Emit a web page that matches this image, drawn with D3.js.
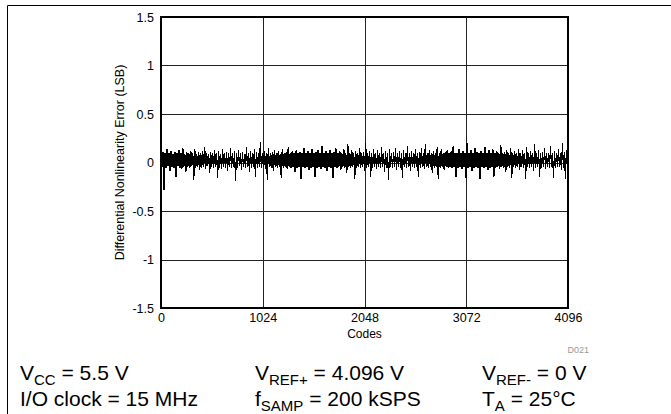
<!DOCTYPE html>
<html><head><meta charset="utf-8">
<script src="https://cdn.jsdelivr.net/npm/d3@7"></script>
<style>
body{margin:0;background:#fff;}
svg{display:block;font-family:"Liberation Sans",Arial,sans-serif;}
</style></head><body>
<svg id="c" width="671" height="414"></svg>
<script>
const xTicks = [0, 1024, 2048, 3072, 4096];
const yTicks = [-1.5, -1, -0.5, 0, 0.5, 1, 1.5];
const yTickLabels = ["-1.5", "-1", "-0.5", "0", "0.5", "1", "1.5"];
const codeStep = 10;
const dnl = [
0.09,-0.05,0.11,-0.28,0.1,-0.06,0.14,-0.04,0.1,-0.09,
0.12,-0.05,0.09,-0.06,0.11,-0.15,0.1,-0.04,0.13,-0.06,
0.1,-0.07,0.15,-0.05,0.09,-0.1,0.11,-0.05,0.1,-0.06,
0.12,-0.04,0.1,-0.18,0.14,-0.06,0.09,-0.05,0.11,-0.08,
0.1,-0.06,0.12,-0.05,0.16,-0.07,0.1,-0.04,0.09,-0.11,
0.11,-0.05,0.1,-0.06,0.13,-0.05,0.1,-0.16,0.12,-0.06,
0.09,-0.07,0.14,-0.05,0.1,-0.06,0.11,-0.09,0.1,-0.05,
0.15,-0.06,0.1,-0.05,0.12,-0.19,0.1,-0.06,0.13,-0.04,
0.1,-0.08,0.11,-0.05,0.09,-0.06,0.16,-0.05,0.1,-0.1,
0.12,-0.06,0.1,-0.05,0.14,-0.15,0.11,-0.06,0.1,-0.05,
0.21,-0.06,0.1,-0.05,0.12,-0.07,0.1,-0.18,0.15,-0.05,
0.1,-0.06,0.11,-0.09,0.13,-0.05,0.1,-0.06,0.12,-0.05,
0.09,-0.16,0.14,-0.06,0.1,-0.05,0.11,-0.07,0.16,-0.05,
0.1,-0.06,0.12,-0.05,0.1,-0.1,0.13,-0.06,0.1,-0.05,
0.11,-0.17,0.1,-0.05,0.15,-0.06,0.1,-0.05,0.12,-0.08,
0.1,-0.06,0.14,-0.05,0.1,-0.15,0.11,-0.06,0.13,-0.05,
0.1,-0.07,0.17,-0.05,0.1,-0.06,0.12,-0.09,0.1,-0.05,
0.13,-0.06,0.1,-0.16,0.11,-0.05,0.15,-0.06,0.1,-0.05,
0.12,-0.08,0.1,-0.05,0.14,-0.06,0.1,-0.11,0.19,-0.05,
0.1,-0.06,0.13,-0.05,0.1,-0.17,0.12,-0.06,0.1,-0.05,
0.15,-0.06,0.1,-0.05,0.11,-0.09,0.2,-0.06,0.1,-0.05,
0.12,-0.15,0.1,-0.06,0.14,-0.05,0.1,-0.07,0.13,-0.05,
0.1,-0.06,0.16,-0.05,0.1,-0.1,0.12,-0.06,0.1,-0.18,
0.14,-0.05,0.1,-0.06,0.11,-0.05,0.15,-0.08,0.1,-0.05,
0.12,-0.06,0.1,-0.16,0.13,-0.05,0.1,-0.06,0.17,-0.05,
0.1,-0.09,0.12,-0.05,0.1,-0.06,0.14,-0.05,0.1,-0.15,
0.11,-0.06,0.15,-0.05,0.1,-0.07,0.19,-0.05,0.1,-0.06,
0.13,-0.05,0.1,-0.11,0.12,-0.06,0.1,-0.05,0.16,-0.17,
0.1,-0.06,0.14,-0.05,0.1,-0.08,0.11,-0.05,0.13,-0.06,
0.1,-0.05,0.12,-0.06,0.17,-0.05,0.1,-0.15,0.1,-0.06,
0.14,-0.05,0.1,-0.07,0.12,-0.05,0.1,-0.16,0.2,-0.06,
0.1,-0.05,0.13,-0.09,0.1,-0.06,0.15,-0.05,0.11,-0.06,
0.1,-0.17,0.12,-0.05,0.1,-0.06,0.16,-0.05,0.1,-0.08,
0.13,-0.06,0.1,-0.05,0.14,-0.15,0.1,-0.06,0.12,-0.05,
0.1,-0.07,0.18,-0.05,0.1,-0.06,0.11,-0.1,0.13,-0.05,
0.1,-0.06,0.15,-0.16,0.1,-0.05,0.12,-0.06,0.1,-0.05,
0.14,-0.08,0.1,-0.05,0.13,-0.06,0.1,-0.17,0.16,-0.05,
0.1,-0.06,0.12,-0.05,0.1,-0.09,0.19,-0.06,0.1,-0.05,
0.13,-0.15,0.1,-0.06,0.11,-0.05,0.15,-0.07,0.1,-0.05,
0.1,-0.06,0.17,-0.05,0.1,-0.16,0.12,-0.06,0.1,-0.05,
0.14,-0.05,0.1,-0.08,0.2,-0.06,0.11,-0.17,0.13,-0.06
];

const svg = d3.select("#c");
const m = {left:161, right:568, top:17, bottom:308};
const x = d3.scaleLinear().domain([0,4096]).range([m.left, m.right]);
const y = d3.scaleLinear().domain([-1.5,1.5]).range([m.bottom, m.top]);

// page frame
svg.append("line").attr("x1",7.5).attr("x2",671).attr("y1",5.5).attr("y2",5.5).attr("stroke","#000");
svg.append("line").attr("x1",7.5).attr("x2",7.5).attr("y1",5.5).attr("y2",414).attr("stroke","#000");

// grid
const g = svg.append("g");
g.selectAll(".gx").data(xTicks.slice(1,-1)).join("line")
  .attr("x1",d=>Math.round(x(d))+0.5).attr("x2",d=>Math.round(x(d))+0.5)
  .attr("y1",m.top).attr("y2",m.bottom).attr("stroke","#222").attr("stroke-width",1);
g.selectAll(".gy").data(yTicks.slice(1,-1)).join("line")
  .attr("y1",d=>Math.round(y(d))+0.5).attr("y2",d=>Math.round(y(d))+0.5)
  .attr("x1",m.left).attr("x2",m.right).attr("stroke","#222").attr("stroke-width",1);

// data line
const line = d3.line().x((d,i)=>x(i*codeStep)).y(d=>y(d));
svg.append("path").datum(dnl).attr("d",line).attr("fill","none")
  .attr("stroke","#000").attr("stroke-width",1.2).attr("shape-rendering","crispEdges");

// frame
svg.append("rect").attr("x",m.left).attr("y",m.top).attr("width",m.right-m.left)
  .attr("height",m.bottom-m.top).attr("fill","none").attr("stroke","#000").attr("stroke-width",2);

// axes labels
const yAxis = d3.axisLeft(y).tickValues(yTicks).tickFormat((d,i)=>yTickLabels[i]).tickSize(0).tickPadding(7);
const ya = svg.append("g").attr("transform",`translate(${m.left},0)`).call(yAxis);
ya.select(".domain").remove();
ya.selectAll("text").attr("font-size",12.5).attr("font-family","Liberation Sans, Arial, sans-serif").attr("fill","#000");

const xAxis = d3.axisBottom(x).tickValues(xTicks).tickFormat(d3.format("d")).tickSize(0).tickPadding(5);
const xa = svg.append("g").attr("transform",`translate(0,${m.bottom})`).call(xAxis);
xa.select(".domain").remove();
xa.selectAll("text").attr("font-size",12.5).attr("font-family","Liberation Sans, Arial, sans-serif").attr("fill","#000");

svg.append("text").attr("x",(m.left+m.right)/2).attr("y",338).attr("text-anchor","middle")
  .attr("font-size",12).text("Codes");
svg.append("text").attr("transform",`translate(124,${(m.top+m.bottom)/2}) rotate(-90)`)
  .attr("text-anchor","middle").attr("font-size",12.5).text("Differential Nonlinearity Error (LSB)");
svg.append("text").attr("x",589).attr("y",353).attr("text-anchor","end")
  .attr("font-size",9).attr("fill","#999").text("D021");

// conditions
function cond(xp, yp, main, sub, rest){
  const t = svg.append("text").attr("x",xp).attr("y",yp).attr("font-size",21);
  t.append("tspan").text(main);
  if(sub){ t.append("tspan").attr("font-size",15).attr("dy",5).text(sub);
           t.append("tspan").attr("dy",-5).text(rest);}
  else t.append("tspan").text(rest);
}
cond(20,380,"V","CC"," = 5.5 V");
cond(255,380,"V","REF+"," = 4.096 V");
cond(482,380,"V","REF-"," = 0 V");
cond(20,406,"I/O clock = 15 MHz","","");
cond(255,406,"f","SAMP"," = 200 kSPS");
cond(482,406,"T","A"," = 25°C");
</script></body></html>
